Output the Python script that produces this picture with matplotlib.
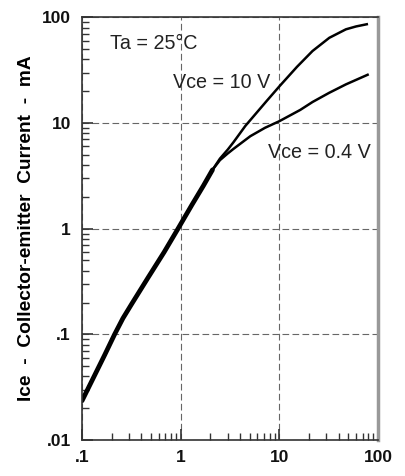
import numpy as np
import matplotlib
matplotlib.use("Agg")
import matplotlib.pyplot as plt
from matplotlib.ticker import LogLocator, FixedLocator, NullFormatter

# Ice vs If (If in mA, Ice in mA)
# shared part of both curves, up to where they split
common_if = [0.1, 0.146, 0.17, 0.214, 0.26, 0.32, 0.468, 0.68, 0.94, 1.3, 1.7, 2.1]
common_ice = [0.0235, 0.048, 0.064, 0.1, 0.142, 0.195, 0.345, 0.6, 1.0, 1.68, 2.55, 3.6]

# Vce = 10 V branch
vce10_if = [2.5, 3.0, 3.44, 4.53, 7.5, 10, 15.1, 21.7, 32.1, 47.3, 60, 77]
vce10_ice = [4.6, 5.6, 6.6, 9.4, 16.3, 22.2, 34, 48, 64, 77, 82, 86]

# Vce = 0.4 V branch
vce04_if = [2.5, 3.0, 3.44, 5.08, 7.15, 10, 16.3, 21.7, 32, 47.3, 78.5]
vce04_ice = [4.45, 5.15, 5.7, 7.5, 9.0, 10.4, 13.3, 15.8, 19.3, 23.2, 28.6]

xticks = [0.1, 1, 10, 100]
xlabels = [".1", "1", "10", "100"]
yticks = [0.01, 0.1, 1, 10, 100]
ylabels = [".01", ".1", "1", "10", "100"]

plt.rcParams['font.family'] = ['Liberation Sans', 'DejaVu Sans']

fig = plt.figure(figsize=(4.06, 4.76), dpi=100)
ax = fig.add_axes([0.202, 0.0756, 0.729, 0.888])

ax.plot(common_if, common_ice, color='black', lw=3.4,
        solid_capstyle='round', solid_joinstyle='round')
ax.plot(common_if + vce10_if, common_ice + vce10_ice, color='black', lw=1.8,
        solid_joinstyle='round')
ax.plot(common_if + vce04_if, common_ice + vce04_ice, color='black', lw=1.8,
        solid_joinstyle='round')

ax.set_xscale('log')
ax.set_yscale('log')
ax.set_xlim(0.1, 100)
ax.set_ylim(0.01, 100)

ax.xaxis.set_major_locator(FixedLocator(xticks))
ax.set_xticklabels(xlabels)
ax.yaxis.set_major_locator(FixedLocator(yticks))
ax.set_yticklabels(ylabels)
ax.xaxis.set_minor_locator(LogLocator(base=10, subs=np.arange(2, 10)))
ax.yaxis.set_minor_locator(LogLocator(base=10, subs=np.arange(2, 10)))
ax.xaxis.set_minor_formatter(NullFormatter())
ax.yaxis.set_minor_formatter(NullFormatter())

ax.tick_params(which='both', direction='in', top=False, right=False,
               colors='#333333', labelcolor='#111111')
ax.tick_params(which='major', length=8, width=1.2, labelsize=12.5)
ax.tick_params(axis='y', which='major', pad=8)
ax.tick_params(axis='x', which='major', pad=7)
ax.tick_params(which='minor', length=5, width=1.0)
for lab in ax.get_xticklabels() + ax.get_yticklabels():
    lab.set_fontweight('bold')

ax.grid(True, which='major', color='#666666', lw=0.8, linestyle=(0, (6, 3)))

for side in ['left', 'bottom', 'top']:
    ax.spines[side].set_color('#333333')
    ax.spines[side].set_linewidth(1.2)
ax.spines['right'].set_color('#999999')
ax.spines['right'].set_linewidth(2.5)

ax.text(0.095, 0.938, "Ta = 25°C", transform=ax.transAxes, fontsize=14.2,
        va='center', ha='left', color='#222222')
ax.text(0.307, 0.846, "Vce = 10 V", transform=ax.transAxes, fontsize=14.2,
        va='center', ha='left', color='#222222')
ax.text(0.628, 0.681, "Vce = 0.4 V", transform=ax.transAxes, fontsize=14.2,
        va='center', ha='left', color='#222222')

ax.set_ylabel("Ice  -  Collector-emitter  Current  -  mA", fontsize=13.8,
              fontweight='bold', labelpad=5)

fig.savefig("out.png", dpi=100)
